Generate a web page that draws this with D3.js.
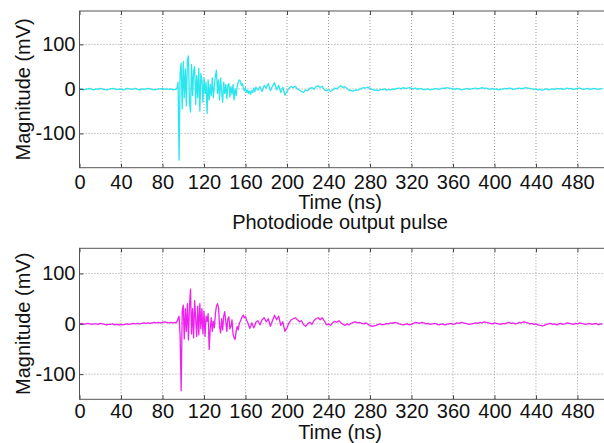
<!DOCTYPE html>
<html>
<head>
<meta charset="utf-8">
<script src="https://cdn.jsdelivr.net/npm/d3@7"></script>
<style>
  html, body { margin: 0; padding: 0; background: #fff; }
  svg { display: block; }
  text { font-family: "Liberation Sans", Arial, sans-serif; fill: #111; }
</style>
</head>
<body>
<svg id="chart" width="604" height="443"></svg>
<script>
// Sampling grids (ns): coarse before the trigger, 1 ns through the burst, coarse in the tail
const preTime = d3.range(0, 94, 2);      // 0 .. 92
const burstTime = d3.range(93, 171, 1);  // 93 .. 170
const tailTime = d3.range(172, 506, 2);  // 172 .. 504

// Acoustic channel (mV)
const acousticPre = [-1,0,-2,-1,0,1,-1,-2,0,-1, 1,0,-1,-2,-1,0,1,0,-1,-1,
  0,-2,-1,1,0,-1,0,1,-1,-2, 0,-1,0,1,0,-1,-2,-1,0,0, 1,-1,0,-1,0,-2,-1];
const acousticBurst = [
  -1, 2, 15, -160, 35, 58, -45, 62, -20, 45,
  -38, 65, 74, -30, -52, 55, -15, 40, 50, -35,
  30, -20, 46, -50, 35, 20, -30, 25, -10, 15,
  -55, 20, -25, 10, -15, 25, -20, 5, 30, 42,
  -10, 20, -25, 25, -5, -30, 15, -10, 10, -22,
  8, 12, -18, 5, -12, 10, -25, 0, -15, 5,
  15, 20, 18, 8, 12, 2, -5, 3, -8, -3,
  -10, -5, -12, -4, -8, 2, -6, 4];
const acousticTail = [
  -3, 5, -6, 8, 2, 12, -4, 6, 14, -2, 8, -8, 4, -14, -6,
  2, 5, 3, 6, 0, -3, -6, -8, -2, -4, 1, 3, -1, 5, 7, 3, 6, -2, -4, -1,
  -6, -3, 2, 0, 4, 7, 3, 5, 0, -3,
  -4,-5,-2,-3,-1,1,3,2,4,1, -1,-3,-2,-4,-1,-2,0,-3,-1,-2,
  0,-1,1,2,0,3,1,2,3,1, 0,2,-1,1,0,-2,-1,0,-2,-1,
  0,1,-1,0,2,1,3,2,1,0, -1,1,0,-2,-1,0,1,-1,0,1,
  2,0,1,3,1,2,0,-1,1,-1, 0,-2,-1,0,1,0,2,1,-1,0,
  1,2,0,1,3,2,1,0,-1,0, -2,-1,-3,-1,0,-2,-1,0,-1,1,
  0,1,-1,0,2,0,1,-1,0,1, 2,0,-1,0,1,-1,0,1,0,-1, 0,1];

// Photodiode channel (mV)
const photodiodePre = [0,1,-1,0,1,0,-1,0,0,-1, 1,0,-1,-2,-1,-1,0,-2,-1,-2,
  -1,-2,-1,0,-1,0,1,0,1,0, 1,2,1,2,1,2,3,2,3,2, 3,4,3,2,3,2,3];
const photodiodeBurst = [
  2, 4, 10, 15, -25, -133, 25, 37, -30, 30,
  -15, 40, -32, 35, 69, -20, 30, -28, 46, 10,
  -25, 35, -22, 40, -10, 30, -20, 25, -25, 15,
  5, 20, -51, -10, 12, -15, 5, -8, 20, 35,
  40, 32, -5, -18, 10, -12, 15, 24, 5, -15,
  10, 14, -10, -5, 8, -20, -28, -31, -15, -5,
  -12, 0, 5, 10, 15, 17, 12, 14, 8, 3,
  -2, -9, -5, 2, -3, -8, -4, 3];
const photodiodeTail = [
  6, -2, 8, 12, 4, 10, -5, 6, 17, 8, 15, -3, 4, -15, -8,
  2, 8, 10, 12, 8, 4, 6, -2, -5, 0, 3, -1, 6, 10, 12, 8, 12, 6, -2, 0,
  -3, 2, 5, 3, 6, 2, -1, -3, 0, -2,
  1,3,4,2,3,1,0,2,-1,-3, -5,-4,-3,-1,0,-2,-1,1,0,2,
  1,3,2,0,-1,-2,-1,0,-2,-1, 1,3,2,1,3,2,0,1,-1,0,
  1,0,-2,-1,0,-2,-1,0,1,-1, 0,2,1,3,2,1,0,-1,0,1,
  2,1,3,2,4,3,2,1,0,2, 1,0,-1,1,0,2,3,1,2,0,
  1,3,2,4,3,2,0,1,-1,0, -2,-3,-4,-3,-1,0,1,-1,0,-2,
  0,1,-1,0,2,1,0,-1,1,0, 2,1,0,-1,0,1,-1,0,1,-2, 0,-1];

const xTicks = [0, 40, 80, 120, 160, 200, 240, 280, 320, 360, 400, 440, 480];
const yTicks = [-100, 0, 100];

function joinSeries(pre, burst, tail) {
  const pts = [];
  [[preTime, pre], [burstTime, burst], [tailTime, tail]].forEach(([ts, vs]) => {
    const n = Math.min(ts.length, vs.length);
    for (let i = 0; i < n; i++) pts.push([ts[i], vs[i]]);
  });
  return pts;
}

const panels = [
  { id: "a", data: joinSeries(acousticPre, acousticBurst, acousticTail),
    color: "#2ae6ee", top: 11, bottom: 167.7, yDomain: [-177, 175],
    tickGap: 21, xLabelGap: 41.5, title: null },
  { id: "b", data: joinSeries(photodiodePre, photodiodeBurst, photodiodeTail),
    color: "#ee22ee", top: 248.3, bottom: 399.3, yDomain: [-150, 150],
    tickGap: 19, xLabelGap: 39.3, title: "Photodiode output pulse" }
];

const svg = d3.select("#chart");
const left = 79.5, right = 603.4;
const x = d3.scaleLinear().domain([0, 505]).range([left, right]);
const centerX = 340;
const plain = d => String(d);

panels.forEach(p => {
  const y = d3.scaleLinear().domain(p.yDomain).range([p.bottom, p.top]);
  const g = svg.append("g");

  g.append("clipPath").attr("id", "clip-" + p.id)
    .append("rect").attr("x", left).attr("y", p.top)
    .attr("width", right - left).attr("height", p.bottom - p.top);

  // dotted grid
  g.append("g").selectAll("line").data(xTicks.filter(t => t > 0)).join("line")
    .attr("x1", d => x(d)).attr("x2", d => x(d))
    .attr("y1", p.top).attr("y2", p.bottom)
    .attr("stroke", "#9a9a9a").attr("stroke-width", 1)
    .attr("stroke-dasharray", "1,2");
  g.append("g").selectAll("line").data(yTicks).join("line")
    .attr("x1", left).attr("x2", right)
    .attr("y1", d => y(d)).attr("y2", d => y(d))
    .attr("stroke", "#9a9a9a").attr("stroke-width", 1)
    .attr("stroke-dasharray", "1,2");

  // waveform
  g.append("path")
    .datum(p.data)
    .attr("clip-path", `url(#clip-${p.id})`)
    .attr("fill", "none")
    .attr("stroke", p.color)
    .attr("stroke-width", 1.3)
    .attr("stroke-linejoin", "round")
    .attr("d", d3.line().x(d => x(d[0])).y(d => y(d[1])));

  // axes with inward ticks
  const xAxisB = d3.axisBottom(x).tickValues(xTicks).tickFormat(plain)
    .tickSizeInner(-4).tickSizeOuter(0).tickPadding(9);
  const xAxisT = d3.axisTop(x).tickValues(xTicks).tickSizeInner(-4).tickSizeOuter(0).tickFormat("");
  const yAxisL = d3.axisLeft(y).tickValues(yTicks).tickFormat(plain)
    .tickSizeInner(-4).tickSizeOuter(0).tickPadding(4);

  const gb = g.append("g").attr("transform", `translate(0,${p.bottom})`).call(xAxisB);
  const gt = g.append("g").attr("transform", `translate(0,${p.top})`).call(xAxisT);
  const gl = g.append("g").attr("transform", `translate(${left},0)`).call(yAxisL);
  [gb, gt, gl].forEach(a => {
    a.select(".domain").remove();
    a.selectAll("line").attr("stroke", "#444");
    a.selectAll("text").attr("font-size", 20)
      .attr("font-family", "'Liberation Sans', Arial, sans-serif").attr("fill", "#111");
  });
  gb.selectAll("text").attr("dy", null).attr("y", null)
    .attr("transform", `translate(0,${p.tickGap})`);

  // axes box
  g.append("rect").attr("x", left).attr("y", p.top)
    .attr("width", right - left + 5).attr("height", p.bottom - p.top)
    .attr("fill", "none").attr("stroke", "#555").attr("stroke-width", 1);

  // labels
  g.append("text").attr("x", centerX).attr("y", p.bottom + p.xLabelGap)
    .attr("text-anchor", "middle").attr("font-size", 20).text("Time (ns)");
  g.append("text")
    .attr("transform", `translate(30,${(p.top + p.bottom) / 2}) rotate(-90)`)
    .attr("text-anchor", "middle").attr("font-size", 20).text("Magnitude (mV)");
  if (p.title) {
    g.append("text").attr("x", centerX).attr("y", p.top - 19.3)
      .attr("text-anchor", "middle").attr("font-size", 20).text(p.title);
  }
});
</script>
</body>
</html>
